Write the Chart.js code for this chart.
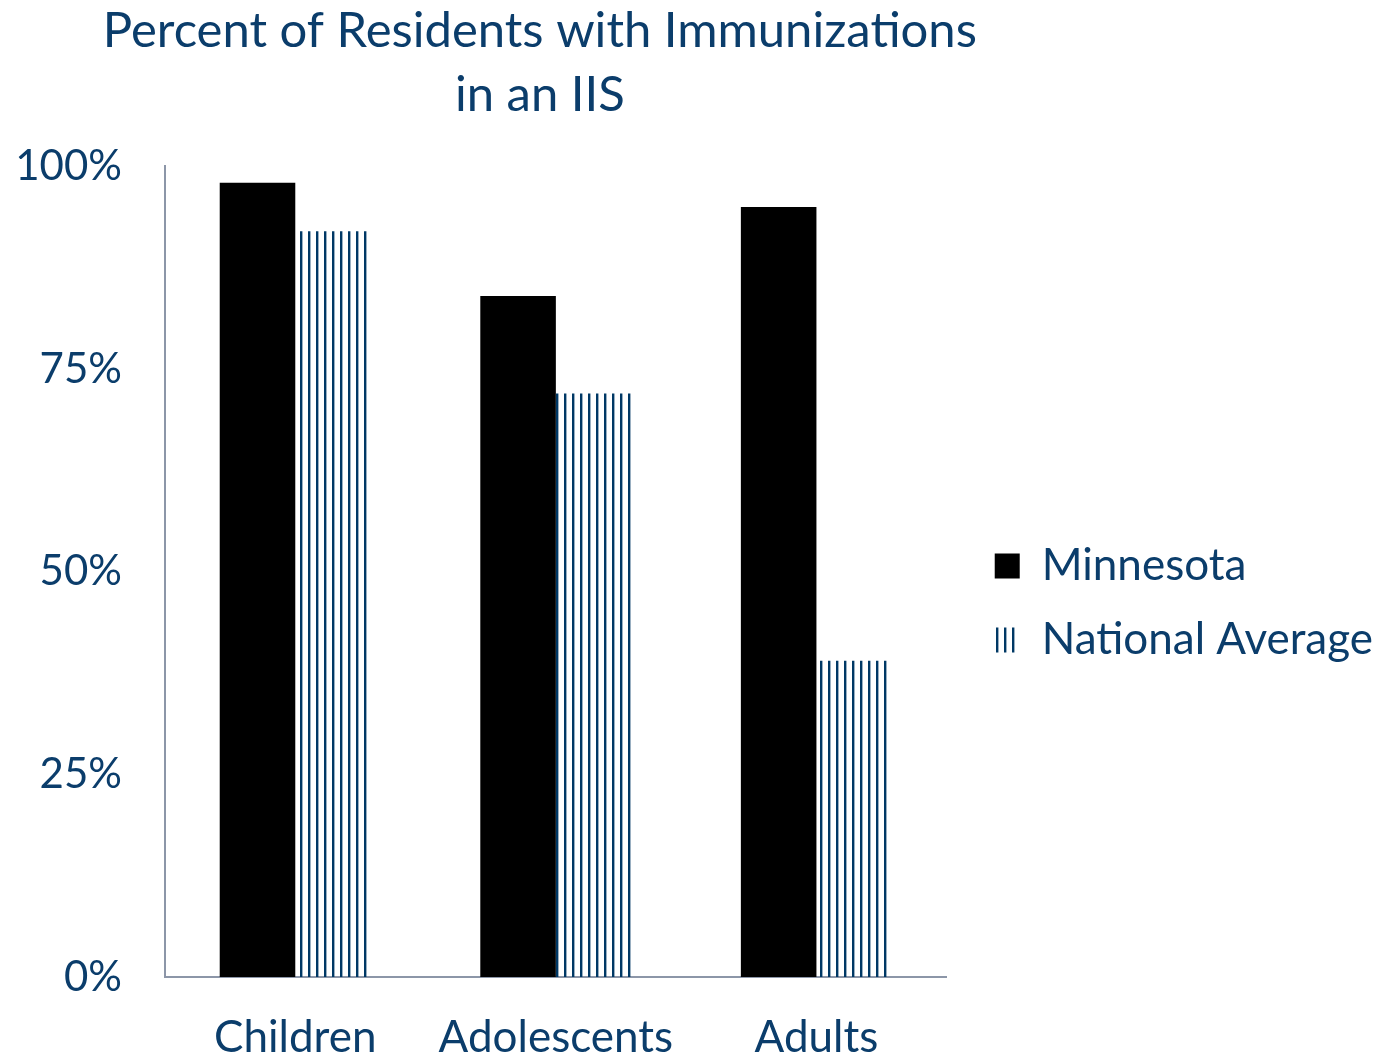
<!DOCTYPE html>
<html>
<head>
<meta charset="utf-8">
<title>Percent of Residents with Immunizations in an IIS</title>
<script src="https://cdn.jsdelivr.net/npm/chart.js@4.4.1/dist/chart.umd.min.js"></script>
<style>
  html, body { margin: 0; padding: 0; background: #fff; }
  #wrap { width: 1376px; height: 1058px; }
</style>
</head>
<body>
<div id="wrap"><canvas id="iisChart" width="1376" height="1058"></canvas></div>
<script>
// Chart data
const categories = ['Children', 'Adolescents', 'Adults'];
const minnesota = [98, 84, 95];
const nationalAverage = [92, 72, 39];
const yTicks = [0, 25, 50, 75, 100];

const textColor = '#0b3d6b';
const stripeColor = '#003865';
const axisColor = '#8c96a8';
const fontFamily = 'Lato, "Open Sans", sans-serif';

// Vertical stripe fill for the national bars
function makeStripes(ctx) {
    const c = document.createElement('canvas');
    c.width = 8;
    c.height = 8;
    const g = c.getContext('2d');
    g.fillStyle = stripeColor;
    g.fillRect(4, 0, 2, 8);
    g.globalAlpha = 0.4;
    g.fillRect(6, 0, 1, 8);
    return ctx.createPattern(c, 'repeat');
}

// Place title and legend a bit off the default spots, like the original
const boxNudge = {
    id: 'boxNudge',
    afterLayout(chart) {
        const area = chart.chartArea;
        if (chart.titleBlock) {
            chart.titleBlock.left = area.left - 90;
            chart.titleBlock.right = area.right + 58;
        }
        if (chart.legend) {
            chart.legend.left += 18;
            chart.legend.right += 18;
        }
    }
};

const ctx = document.getElementById('iisChart').getContext('2d');
const stripes = makeStripes(ctx);

new Chart(ctx, {
    type: 'bar',
    data: {
        labels: categories,
        datasets: [
            {
                label: 'Minnesota',
                data: minnesota,
                backgroundColor: '#000000',
                borderWidth: 0
            },
            {
                label: 'National Average',
                data: nationalAverage,
                backgroundColor: stripes,
                borderWidth: 0
            }
        ]
    },
    plugins: [boxNudge],
    options: {
        responsive: false,
        devicePixelRatio: 1,
        animation: false,
        layout: {
            padding: { left: 15, right: 11, top: 0, bottom: 0 }
        },
        datasets: {
            bar: { categoryPercentage: 0.58, barPercentage: 1 }
        },
        plugins: {
            title: {
                display: true,
                fullSize: false,
                text: ['Percent of Residents with Immunizations', 'in an IIS'],
                color: textColor,
                font: { family: fontFamily, size: 49, weight: 'normal', lineHeight: 1.29 },
                padding: { top: 0, bottom: 40 }
            },
            legend: {
                position: 'right',
                fullSize: false,
                maxWidth: 460,
                title: {
                    display: true,
                    text: ' ',
                    font: { size: 12, lineHeight: 1.2 },
                    padding: { top: 24, bottom: 24 }
                },
                labels: {
                    color: textColor,
                    font: { family: fontFamily, size: 44 },
                    boxWidth: 25,
                    boxHeight: 25,
                    padding: 30
                }
            },
            tooltip: { enabled: false }
        },
        scales: {
            x: {
                grid: { display: false },
                border: { display: true, color: axisColor, width: 2 },
                afterFit: (axis) => { axis.height = 81; },
                ticks: {
                    color: textColor,
                    font: { family: fontFamily, size: 44, lineHeight: 1.0 },
                    padding: 31
                }
            },
            y: {
                min: 0,
                max: 100,
                afterBuildTicks: (axis) => {
                    axis.ticks = yTicks.map(v => ({ value: v }));
                },
                afterFit: (axis) => { axis.width = 150; },
                grid: { display: false },
                border: { display: true, color: axisColor, width: 2 },
                ticks: {
                    color: textColor,
                    font: { family: fontFamily, size: 42 },
                    padding: 35,
                    callback: (value) => `${value}%`
                }
            }
        }
    }
});
</script>
</body>
</html>
